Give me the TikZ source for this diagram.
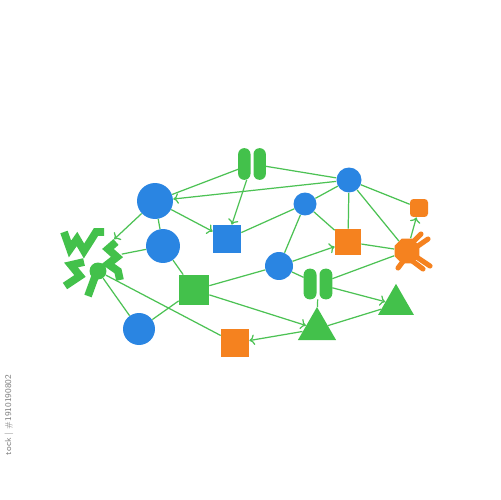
\documentclass[tikz,border=0pt]{standalone}
\usetikzlibrary{calc}
\usetikzlibrary{arrows.meta}
\usetikzlibrary{shapes.geometric}
\definecolor{netblue}{HTML}{2A85E2}
\definecolor{netgreen}{HTML}{43C14B}
\definecolor{netorange}{HTML}{F5821F}
\definecolor{netline}{HTML}{4CC254}
\begin{document}
\begin{tikzpicture}[x=0.02cm,y=-0.02cm,
  link/.style={netline, line width=0.7pt},
  >={To[length=3pt,width=6pt]},
  dot/.style={circle, fill=netblue, inner sep=0, minimum size=#1},
  tile/.style={rectangle, fill=#1, inner sep=0},
  tri/.style={regular polygon, regular polygon sides=3, fill=netgreen, inner sep=0, minimum size=#1},
  squiggle/.style={netgreen, line width=4.4pt, line join=miter},
  leg/.style={netorange, line width=2.9pt, line cap=round}]
\fill[white] (0,0) rectangle (500,500);
\useasboundingbox (0,0) rectangle (500,500);
\node[dot=0.72cm] (c1) at (155,201) {};
\node[dot=0.68cm] (c2) at (163,246) {};
\node[dot=0.64cm] (c3) at (139,329) {};
\node[dot=0.50cm] (c4) at (349,180) {};
\node[dot=0.46cm] (c5) at (305,204) {};
\node[dot=0.56cm] (c6) at (279,266) {};
\node[tile=netblue, minimum size=0.56cm] (sqb) at (227,239) {};
\node[tile=netorange, minimum size=0.52cm] (sqo) at (348,242) {};
\node[tile=netorange, minimum size=0.36cm, rounded corners=0.07cm] (sqs) at (419,208) {};
\node[tile=netgreen, minimum size=0.60cm] (sqg) at (194,290) {};
\node[tile=netorange, minimum size=0.56cm] (sqob) at (235,343) {};
\node[tri=0.88cm] (trib) at (317,329) {};
\node[tri=0.83cm] (trir) at (396,304.6) {};
\node[minimum width=0.54cm, minimum height=0.62cm, inner sep=0] (pill1) at (252,164) {};
\node[minimum width=0.56cm, minimum height=0.60cm, inner sep=0] (pill2) at (318,284) {};
\foreach \p in {pill1,pill2} {
 \fill[netgreen, rounded corners=0.12cm] (\p.south west) rectangle ($(\p.north)+(-1.5,0)$);
 \fill[netgreen, rounded corners=0.12cm] ($(\p.south)+(1.5,0)$) rectangle (\p.north east);
}
\node[regular polygon, regular polygon sides=8, fill=netorange, inner sep=0, minimum size=0.54cm] (bug) at (407,251) {};
\draw[leg] ($(bug)+(3,-6)$) --++(11,-11);
\draw[leg] ($(bug)+(8,-3)$) --++(13,-9);
\draw[leg] ($(bug)+(8,5)$) --++(15,10);
\draw[leg] ($(bug)+(4,9)$) --++(12,9);
\draw[leg] ($(bug)+(-3,9)$) --++(-6,8);
\node[circle, inner sep=0, minimum size=1.2cm] (squig) at (92,260) {};
\draw[squiggle] (64,232)--(70,249)--(77,239)--(84,251)--(91,240)--(96,232)--(104,232);
\draw[squiggle] (116,242)--(108,249)--(117,257)--(108,264)--(118,271)--(120,280);
\draw[squiggle] (84,262)--(71,265)--(80,276)--(65,286);
\draw[squiggle] (96,274)--(88,296);
\node[circle, fill=netgreen, inner sep=0, minimum size=0.34cm] (knob) at (98,271) {};
\draw[link] (pill1) -- (c1);
\draw[link,->] (c4) -- (c1);
\draw[link,->] (pill1) -- (sqb);
\draw[link,->] (c1) -- (sqb);
\draw[link,->] (c1) -- (squig);
\draw[link] (c1) -- (c2);
\draw[link] (c2) -- (squig);
\draw[link] (c2) -- (sqg);
\draw[link] (knob) -- (c3);
\draw[link] (knob) -- (sqob);
\draw[link] (sqg) -- (c3);
\draw[link] (sqg) -- (c6);
\draw[link,->] (sqg) -- (trib);
\draw[link] (pill1) -- (c4);
\draw[link] (c4) -- (c5);
\draw[link] (c4) -- (sqo);
\draw[link] (c4) -- (sqs);
\draw[link] (c4) -- (bug);
\draw[link] (c5) -- (sqb);
\draw[link] (c5) -- (c6);
\draw[link] (c5) -- (sqo);
\draw[link] (sqo) -- (bug);
\draw[link,->] (bug) -- (sqs);
\draw[link,->] (c6) -- (sqo);
\draw[link] (c6) -- (pill2);
\draw[link] (pill2) -- (bug);
\draw[link,->] (pill2) -- (trir);
\draw[link] (pill2) -- (trib);
\draw[link] (trib) -- (trir);
\draw[link,->] (trib) -- (sqob);
\node[rotate=90, text=gray, font=\sffamily\fontsize{5}{6}\selectfont] (stockid) at (9,415) {tock | \#1910190802};
\end{tikzpicture}
\end{document}
